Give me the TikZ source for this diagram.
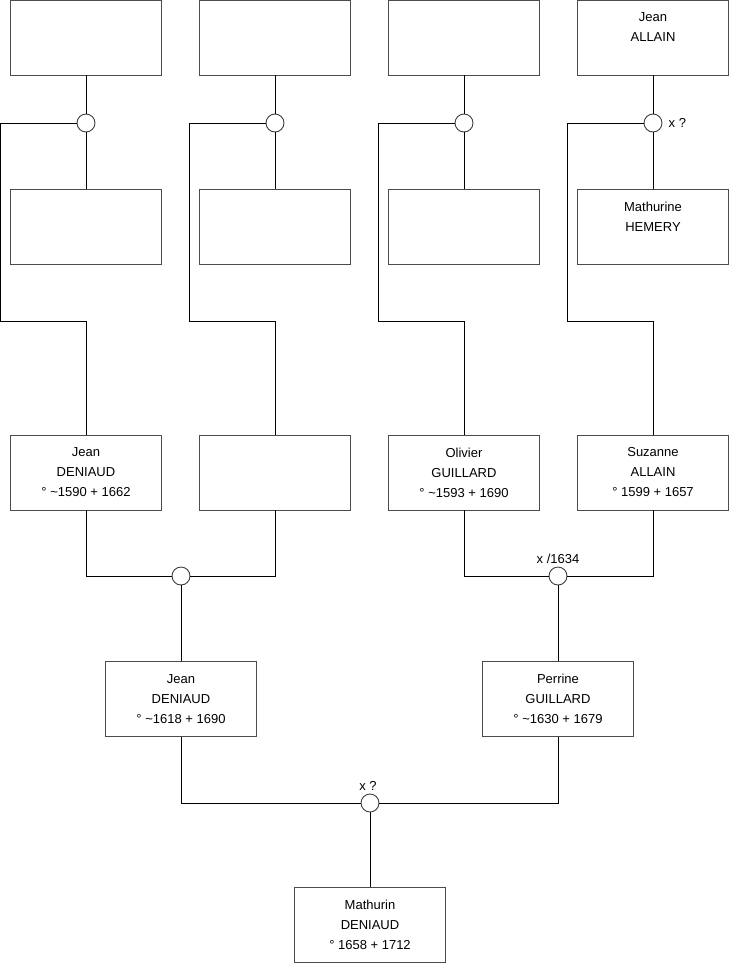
\documentclass[tikz,border=0pt]{standalone}
\usepackage{fontspec}
\setmainfont{Liberation Sans}
\usetikzlibrary{positioning}

\begin{document}
\begin{tikzpicture}[x=1pt, y=-1pt,
    pers/.style={draw=black!70, fill=white, line width=0.9pt,
                 minimum width=151pt, minimum height=75pt,
                 font=\fontsize{13}{20}\selectfont, align=center, inner sep=0pt},
    wed/.style={circle, draw=black!75, fill=white, line width=0.9pt,
                minimum size=18pt, inner sep=0pt},
    lnk/.style={line width=0.9pt, black},
    lbl/.style={font=\fontsize{13}{15}\selectfont, inner sep=1pt}
  ]
  \useasboundingbox (0,0) rectangle (740,975);

  % great-grandparents
  \node[pers] (t1) at (86,37.5) {};
  \node[pers] (t2) at (275,37.5) {};
  \node[pers] (t3) at (464,37.5) {};
  \node[pers] (t4) at (653,37.5) {Jean\\ALLAIN\\\mbox{}};
  \node[pers] (m1) at (86,227) {};
  \node[pers] (m2) at (275,227) {};
  \node[pers] (m3) at (464,227) {};
  \node[pers] (m4) at (653,227) {Mathurine\\HEMERY\\\mbox{}};
  \node[wed] (c1) at (86,123) {};
  \node[wed] (c2) at (275,123) {};
  \node[wed] (c3) at (464,123) {};
  \node[wed] (c4) at (653,123) {};
  \node[lbl, right=5pt of c4] {x ?};

  % grandparents
  \node[pers] (r1) at (86,472.5) {Jean\\DENIAUD\\° \textasciitilde1590 + 1662};
  \node[pers] (r2) at (275,472.5) {};
  \node[pers] (r3) at (464,472.5) {Olivier\\GUILLARD\\° \textasciitilde1593 + 1690};
  \node[pers] (r4) at (653,472.5) {Suzanne\\ALLAIN\\° 1599 + 1657};
  \node[wed] (d1) at (181,576) {};
  \node[wed] (d2) at (558,576) {};
  \node[lbl, above=2pt of d2] {x /1634};

  % parents
  \node[pers] (g1) at (181,699) {Jean\\DENIAUD\\° \textasciitilde1618 + 1690};
  \node[pers] (g2) at (558,699) {Perrine\\GUILLARD\\° \textasciitilde1630 + 1679};
  \node[wed] (e) at (370,803) {};
  \node[lbl, above=2pt of e, xshift=-2pt] {x ?};

  \node[pers] (b) at (370,925) {Mathurin\\DENIAUD\\° 1658 + 1712};

  % links
  \draw[lnk] (t1.south) -- (c1.north) (c1.south) -- (m1.north);
  \draw[lnk] (t2.south) -- (c2.north) (c2.south) -- (m2.north);
  \draw[lnk] (t3.south) -- (c3.north) (c3.south) -- (m3.north);
  \draw[lnk] (t4.south) -- (c4.north) (c4.south) -- (m4.north);
  \draw[lnk] (c1.west) -| ++(-76,198) -| (r1.north);
  \draw[lnk] (c2.west) -| ++(-76,198) -| (r2.north);
  \draw[lnk] (c3.west) -| ++(-76,198) -| (r3.north);
  \draw[lnk] (c4.west) -| ++(-76,198) -| (r4.north);
  \draw[lnk] (r1.south) |- (d1.west) (d1.east) -| (r2.south);
  \draw[lnk] (r3.south) |- (d2.west) (d2.east) -| (r4.south);
  \draw[lnk] (d1.south) -- (g1.north);
  \draw[lnk] (d2.south) -- (g2.north);
  \draw[lnk] (g1.south) |- (e.west) (e.east) -| (g2.south);
  \draw[lnk] (e.south) -- (b.north);
\end{tikzpicture}
\end{document}
